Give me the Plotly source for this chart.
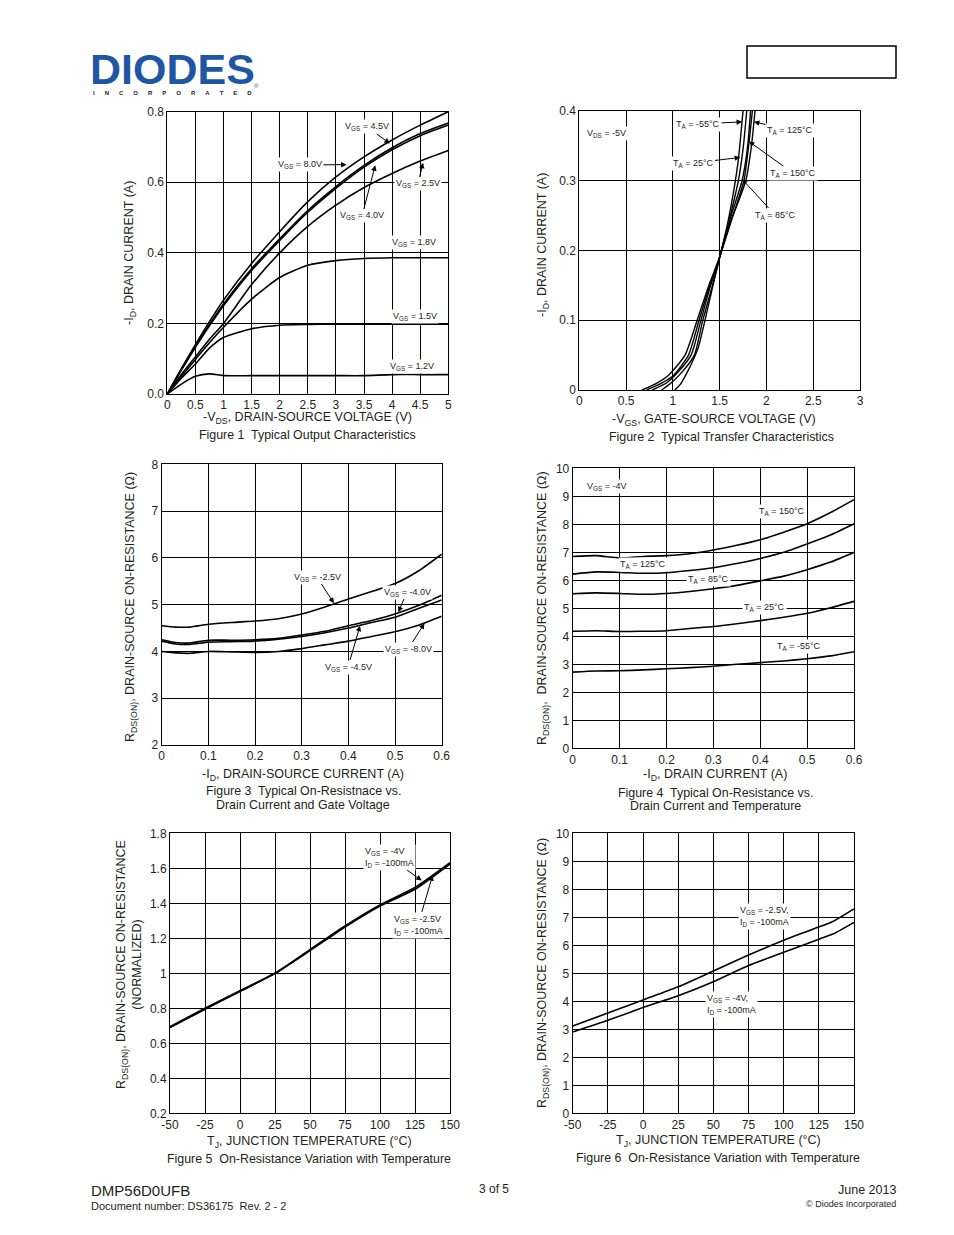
import plotly.graph_objects as go

# ---------------- DATA ----------------
# Figure 1: Typical Output Characteristics
f1_vds = [0, 0.25, 0.5, 0.75, 1, 1.5, 2, 2.5, 3, 3.5, 4, 4.5, 5]
f1_id_8v0 = [0, 0.072, 0.14, 0.205, 0.266, 0.37, 0.46, 0.545, 0.615, 0.672, 0.72, 0.762, 0.80]
f1_id_4v5 = [0, 0.07, 0.135, 0.197, 0.255, 0.355, 0.44, 0.52, 0.588, 0.648, 0.698, 0.738, 0.768]
f1_id_4v0 = [0, 0.068, 0.132, 0.193, 0.25, 0.35, 0.435, 0.515, 0.583, 0.643, 0.692, 0.732, 0.762]
f1_id_2v5 = [0, 0.055, 0.105, 0.155, 0.2, 0.31, 0.40, 0.475, 0.535, 0.585, 0.625, 0.66, 0.69]
f1_id_1v8 = [0, 0.05, 0.098, 0.145, 0.189, 0.269, 0.33, 0.365, 0.378, 0.384, 0.386, 0.386, 0.386]
f1_id_1v5 = [0, 0.045, 0.085, 0.13, 0.16, 0.185, 0.195, 0.197, 0.198, 0.198, 0.198, 0.198, 0.198]
f1_id_1v2 = [0, 0.028, 0.05, 0.057, 0.052, 0.052, 0.052, 0.052, 0.052, 0.052, 0.055, 0.055, 0.055]

# Figure 2: Typical Transfer Characteristics
f2_vgs_m55 = [1.02, 1.08, 1.14, 1.2, 1.27, 1.34, 1.42, 1.5, 1.58, 1.65, 1.7, 1.75]
f2_id_m55 = [0, 0.008, 0.022, 0.038, 0.06, 0.098, 0.145, 0.19, 0.235, 0.285, 0.33, 0.4]
f2_vgs_25 = [0.88, 0.98, 1.1, 1.23, 1.32, 1.42, 1.5, 1.6, 1.7, 1.75, 1.79]
f2_id_25 = [0, 0.01, 0.026, 0.05, 0.1, 0.148, 0.19, 0.242, 0.3, 0.345, 0.4]
f2_vgs_85 = [0.78, 0.93, 1.05, 1.195, 1.30, 1.40, 1.5, 1.6, 1.74, 1.8, 1.83]
f2_id_85 = [0, 0.01, 0.025, 0.05, 0.1, 0.148, 0.19, 0.24, 0.3, 0.35, 0.4]
f2_vgs_125 = [0.72, 0.88, 1.0, 1.167, 1.28, 1.39, 1.5, 1.6, 1.7, 1.78, 1.84, 1.878]
f2_id_125 = [0, 0.01, 0.02, 0.05, 0.1, 0.148, 0.19, 0.235, 0.27, 0.3, 0.35, 0.4]
f2_vgs_150 = [0.67, 0.83, 0.96, 1.13, 1.26, 1.38, 1.5, 1.6, 1.68, 1.76, 1.81, 1.85]
f2_id_150 = [0, 0.01, 0.022, 0.05, 0.1, 0.148, 0.19, 0.232, 0.265, 0.3, 0.35, 0.4]

# Figure 3: On-resistance vs drain current and gate voltage
f3_id = [0, 0.03, 0.06, 0.1, 0.15, 0.2, 0.25, 0.3, 0.35, 0.4, 0.45, 0.5, 0.55, 0.6]
f3_r_2v5 = [4.55, 4.52, 4.52, 4.58, 4.62, 4.65, 4.70, 4.80, 4.95, 5.12, 5.28, 5.45, 5.72, 6.08]
f3_r_4v0 = [4.25, 4.19, 4.18, 4.24, 4.24, 4.25, 4.28, 4.35, 4.43, 4.55, 4.66, 4.80, 4.98, 5.20]
f3_r_4v5 = [4.22, 4.16, 4.15, 4.20, 4.21, 4.22, 4.26, 4.32, 4.40, 4.50, 4.62, 4.73, 4.92, 5.10]
f3_r_8v0 = [4.00, 3.97, 3.96, 4.00, 3.99, 3.98, 4.00, 4.06, 4.14, 4.22, 4.32, 4.42, 4.56, 4.75]

# Figure 4: On-resistance vs drain current and temperature
f4_id = [0, 0.05, 0.1, 0.15, 0.2, 0.25, 0.3, 0.35, 0.4, 0.45, 0.5, 0.55, 0.6]
f4_r_150 = [6.85, 6.88, 6.80, 6.85, 6.88, 6.95, 7.08, 7.25, 7.45, 7.72, 8.02, 8.42, 8.88]
f4_r_125 = [6.22, 6.30, 6.28, 6.25, 6.27, 6.35, 6.45, 6.60, 6.78, 7.00, 7.30, 7.62, 8.02]
f4_r_85 = [5.52, 5.55, 5.53, 5.50, 5.53, 5.60, 5.70, 5.82, 5.98, 6.15, 6.38, 6.65, 7.00]
f4_r_25 = [4.18, 4.20, 4.17, 4.18, 4.20, 4.28, 4.35, 4.45, 4.56, 4.68, 4.82, 5.02, 5.25]
f4_r_m55 = [2.72, 2.76, 2.77, 2.80, 2.84, 2.88, 2.93, 3.00, 3.06, 3.12, 3.20, 3.30, 3.45]

# Figure 5: Normalized on-resistance vs junction temperature
f5_tj = [-50, -25, 0, 25, 50, 75, 100, 125, 150]
f5_r_4v = [0.69, 0.795, 0.897, 1.0, 1.13, 1.265, 1.385, 1.48, 1.625]
f5_r_2v5 = [0.695, 0.80, 0.90, 1.0, 1.135, 1.27, 1.39, 1.49, 1.632]

# Figure 6: On-resistance vs junction temperature
f6_tj = [-50, -25, 0, 25, 50, 75, 100, 125, 135, 150]
f6_r_2v5 = [3.12, 3.58, 4.05, 4.52, 5.08, 5.65, 6.18, 6.65, 6.85, 7.30]
f6_r_4v = [2.90, 3.32, 3.78, 4.20, 4.70, 5.28, 5.75, 6.22, 6.40, 6.82]

# Temperature-axis tick labels (ASCII hyphen, as in the datasheet)
temp_tick_vals = [-50, -25, 0, 25, 50, 75, 100, 125, 150]
temp_tick_text = ["-50", "-25", "0", "25", "50", "75", "100", "125", "150"]

# ---------------- LAYOUT HELPERS ----------------
OFF = 8                      # page body margin of the html page
W, H = 954 - OFF, 1235 - OFF
FONT = "Liberation Sans, Arial, sans-serif"
INK = "#231f20"


def fx(px):
    return (px - OFF) / W


def fy(py):
    return 1 - (py - OFF) / H


# plot boxes in page pixels: left, top, right, bottom ; and data ranges
boxes = {
    1: dict(px=(167.3, 111.7, 448.3, 394.0), xr=(0, 5), yr=(0, 0.8), dx=0.5, dy=0.2, yfmt=".1f", temp=False),
    2: dict(px=(579.3, 110.7, 860.0, 390.0), xr=(0, 3), yr=(0, 0.4), dx=0.5, dy=0.1, yfmt=None, temp=False),
    3: dict(px=(161.7, 464.3, 441.7, 745.0), xr=(0, 0.6), yr=(2, 8), dx=0.1, dy=1, yfmt=None, temp=False),
    4: dict(px=(572.7, 468.3, 854.0, 748.3), xr=(0, 0.6), yr=(0, 10), dx=0.1, dy=1, yfmt=None, temp=False),
    5: dict(px=(170.0, 833.3, 450.0, 1113.3), xr=(-50, 150), yr=(0.2, 1.8), dx=25, dy=0.2, yfmt=None, temp=True),
    6: dict(px=(572.7, 833.3, 854.0, 1113.3), xr=(-50, 150), yr=(0, 10), dx=25, dy=1, yfmt=None, temp=True),
}


def px2data(k, px, py):
    b = boxes[k]
    l, t, r, bt = b["px"]
    x0, x1 = b["xr"]
    y0, y1 = b["yr"]
    return (x0 + (px - l) / (r - l) * (x1 - x0), y1 - (py - t) / (bt - t) * (y1 - y0))


fig = go.Figure()

layout = dict(
    width=W, height=H, autosize=False,
    margin=dict(l=0, r=0, t=0, b=0, pad=0, autoexpand=False),
    paper_bgcolor="white", plot_bgcolor="white", showlegend=False,
    font=dict(family=FONT, color=INK, size=12),
)

for k, b in boxes.items():
    l, t, r, bt = b["px"]
    sfx = "" if k == 1 else str(k)
    common = dict(showgrid=True, gridcolor="black", gridwidth=1, showline=True,
                  linecolor="black", linewidth=1, mirror=True, zeroline=False, automargin=False,
                  ticks="", tickfont=dict(size=12, color=INK, family=FONT), fixedrange=True)
    xa = dict(domain=[fx(l), fx(r)], range=list(b["xr"]), anchor="y" + sfx, **common)
    if b["temp"]:
        xa.update(tickmode="array", tickvals=temp_tick_vals, ticktext=temp_tick_text)
    else:
        xa.update(dtick=b["dx"], tick0=b["xr"][0])
    layout["xaxis" + sfx] = xa
    ya = dict(domain=[fy(bt), fy(t)], range=list(b["yr"]), dtick=b["dy"],
              tick0=b["yr"][0], anchor="x" + sfx, **common)
    if b["yfmt"]:
        ya["tickformat"] = b["yfmt"]
    layout["yaxis" + sfx] = ya

fig.update_layout(**layout)


def add_line(k, x, y, width=1.6):
    sfx = "" if k == 1 else str(k)
    fig.add_trace(go.Scatter(x=x, y=y, mode="lines", xaxis="x" + sfx, yaxis="y" + sfx,
                             line=dict(color="black", width=width, shape="spline", smoothing=0.6),
                             hoverinfo="skip", showlegend=False))


for s in [f1_id_8v0, f1_id_4v5, f1_id_4v0, f1_id_2v5, f1_id_1v8, f1_id_1v5, f1_id_1v2]:
    add_line(1, f1_vds, s)
for xs, ys in [(f2_vgs_m55, f2_id_m55), (f2_vgs_25, f2_id_25), (f2_vgs_85, f2_id_85),
               (f2_vgs_125, f2_id_125), (f2_vgs_150, f2_id_150)]:
    add_line(2, xs, ys, 1.4)
for s in [f3_r_2v5, f3_r_4v0, f3_r_4v5, f3_r_8v0]:
    add_line(3, f3_id, s)
for s in [f4_r_150, f4_r_125, f4_r_85, f4_r_25, f4_r_m55]:
    add_line(4, f4_id, s)
for s in [f5_r_4v, f5_r_2v5]:
    add_line(5, f5_tj, s, 1.8)
for s in [f6_r_2v5, f6_r_4v]:
    add_line(6, f6_tj, s)

ann = []


def page_text(text, px, py, size=12, xanchor="center", yanchor="middle", angle=0, color=INK, bold=False, align="center"):
    if bold:
        text = "<b>" + text + "</b>"
    ann.append(dict(text=text, x=fx(px), y=fy(py), xref="paper", yref="paper",
                    xanchor=xanchor, yanchor=yanchor, showarrow=False, textangle=angle,
                    align=align, borderpad=0, font=dict(size=size, color=color, family=FONT)))


def plot_label(k, text, px, py, tip=None, size=9, align="center"):
    sfx = "" if k == 1 else str(k)
    dx, dy = px2data(k, px, py)
    a = dict(text=text, xref="x" + sfx, yref="y" + sfx, font=dict(size=size, color=INK, family=FONT),
             bgcolor="white", align=align, borderpad=1)
    if tip is None:
        a.update(x=dx, y=dy, showarrow=False)
    else:
        a.update(x=tip[0], y=tip[1], ax=dx, ay=dy, axref="x" + sfx, ayref="y" + sfx,
                 showarrow=True, arrowhead=2, arrowsize=1.1, arrowwidth=1, arrowcolor="black")
    ann.append(a)


VGS = "V<sub>GS</sub>"
TA = "T<sub>A</sub>"
ID = "I<sub>D</sub>"

# Figure 1 labels
plot_label(1, VGS + " = 4.5V", 367, 127, (3.96, 0.71))
plot_label(1, VGS + " = 8.0V", 300, 165, (3.19, 0.65))
plot_label(1, VGS + " = 2.5V", 418, 184, (4.55, 0.655))
plot_label(1, VGS + " = 4.0V", 362, 216, (3.7, 0.648))
plot_label(1, VGS + " = 1.8V", 414, 243)
plot_label(1, VGS + " = 1.5V", 415, 316)
plot_label(1, VGS + " = 1.2V", 412, 366)

# Figure 2 labels
plot_label(2, "V<sub>DS</sub> = -5V", 606, 133)
plot_label(2, TA + " = -55°C", 698, 124, (1.74, 0.384))
plot_label(2, TA + " = 25°C", 693, 163, (1.72, 0.333))
plot_label(2, TA + " = 125°C", 790, 130, (1.866, 0.384))
plot_label(2, TA + " = 150°C", 793, 173, (1.812, 0.356))
plot_label(2, TA + " = 85°C", 775, 215, (1.74, 0.302))

# Figure 3 labels
plot_label(3, VGS + " = -2.5V", 317, 577, (0.369, 5.03))
plot_label(3, VGS + " = -4.0V", 407, 592, (0.507, 4.84))
plot_label(3, VGS + " = -8.0V", 408, 649, (0.563, 4.6))
plot_label(3, VGS + " = -4.5V", 348, 667, (0.425, 4.55))

# Figure 4 labels
plot_label(4, VGS + " = -4V", 606, 487)
plot_label(4, TA + " = 150°C", 782, 512)
plot_label(4, TA + " = 125°C", 643, 565)
plot_label(4, TA + " = 85°C", 708, 580)
plot_label(4, TA + " = 25°C", 764, 608)
plot_label(4, TA + " = -55°C", 799, 647)

# Figure 5 labels
plot_label(5, VGS + " = -4V<br>" + ID + " = -100mA", 389, 857, (129.8, 1.53), align="left")
plot_label(5, VGS + " = -2.5V<br>" + ID + " = -100mA", 418, 925, (137.6, 1.56), align="left")

# Figure 6 labels
plot_label(6, VGS + " = -2.5V,<br>" + ID + " = -100mA", 764, 916, align="left")
plot_label(6, VGS + " = -4V,<br>" + ID + " = -100mA", 731, 1004, align="left")

# Axis titles and captions
TS = 12.5
CS = 12.4
page_text("-V<sub>DS</sub>, DRAIN-SOURCE VOLTAGE (V)", 307, 418, TS)
page_text("Figure 1  Typical Output Characteristics", 307, 435, CS)
page_text("-I<sub>D</sub>, DRAIN CURRENT (A)", 130, 253, TS, angle=-90)

page_text("-V<sub>GS</sub>, GATE-SOURCE VOLTAGE (V)", 714, 420, TS)
page_text("Figure 2  Typical Transfer Characteristics", 721, 437, CS)
page_text("-I<sub>D</sub>, DRAIN CURRENT (A)", 543, 245, TS, angle=-90)

page_text("-I<sub>D</sub>, DRAIN-SOURCE CURRENT (A)", 303, 775, TS)
page_text("Figure 3  Typical On-Resistnace vs.", 303, 791, CS)
page_text("Drain Current and Gate Voltage", 303, 805, CS)
page_text("R<sub>DS(ON)</sub>, DRAIN-SOURCE ON-RESISTANCE (Ω)", 131, 607, TS, angle=-90)

page_text("-I<sub>D</sub>, DRAIN CURRENT (A)", 715, 775, TS)
page_text("Figure 4  Typical On-Resistance vs.", 715, 793, CS)
page_text("Drain Current and Temperature", 715, 806, CS)
page_text("R<sub>DS(ON)</sub>,  DRAIN-SOURCE ON-RESISTANCE (Ω)", 543, 608, TS, angle=-90)

page_text("T<sub>J</sub>, JUNCTION TEMPERATURE (°C)", 309, 1142, TS)
page_text("Figure 5  On-Resistance Variation with Temperature", 309, 1159, CS)
page_text("R<sub>DS(ON)</sub>, DRAIN-SOURCE ON-RESISTANCE<br>(NORMALIZED)", 129, 965, TS, angle=-90)

page_text("T<sub>J</sub>, JUNCTION TEMPERATURE (°C)", 718, 1141, TS)
page_text("Figure 6  On-Resistance Variation with Temperature", 718, 1158, CS)
page_text("R<sub>DS(ON)</sub>, DRAIN-SOURCE ON-RESISTANCE (Ω)", 543, 973, TS, angle=-90)

# Header: logo and box
LOGO = "#1f56a3"
NB = "\u00a0"
page_text("DIODES", 172, 69, 43, color=LOGO, bold=True)
page_text((NB * 6).join("INCORPORATED"), 172, 93, 6, color="#222", bold=True)
page_text("®", 256, 86, 6, color=LOGO)

# Footer
page_text("DMP56D0UFB", 90, 1190, 15, xanchor="left")
page_text("Document number: DS36175  Rev. 2 - 2", 90, 1206, 11, xanchor="left")
page_text("3 of 5", 494, 1189, 12)
page_text("June 2013", 897, 1190, 12.5, xanchor="right")
page_text("© Diodes Incorporated", 897, 1204, 9, xanchor="right")

fig.update_layout(annotations=ann,
                  shapes=[dict(type="rect", xref="paper", yref="paper", x0=fx(747), x1=fx(896),
                               y0=fy(78), y1=fy(46), line=dict(color="black", width=1.5))])

fig.write_html("out.html")
